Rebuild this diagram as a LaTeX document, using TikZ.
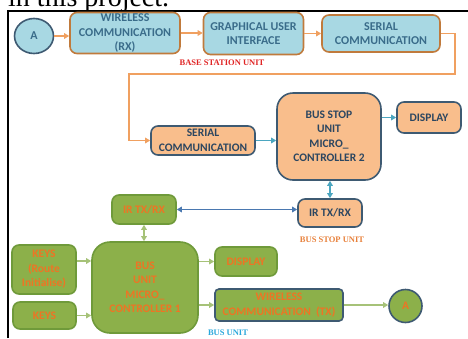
\documentclass[tikz,border=0pt]{standalone}
\usepackage{fontspec}
\setmainfont{Liberation Serif}
\newfontfamily\boxfont{Carlito}
\usetikzlibrary{arrows.meta,shapes.geometric}
\definecolor{lbfill}{HTML}{A8D8E3}
\definecolor{lbbord}{HTML}{C07A3C}
\definecolor{lbtext}{HTML}{3A6C8A}
\definecolor{ofill}{HTML}{F9BE8C}
\definecolor{dbord}{HTML}{3E5A72}
\definecolor{otext}{HTML}{2C4660}
\definecolor{gfill}{HTML}{8CB04A}
\definecolor{gbord}{HTML}{6F9A3A}
\definecolor{gtext}{HTML}{EE7424}
\definecolor{arrorange}{HTML}{F0A060}
\definecolor{arrteal}{HTML}{4BA6C0}
\definecolor{arrblue}{HTML}{4A78B0}
\definecolor{arrgreen}{HTML}{A6C278}
\definecolor{labred}{HTML}{E02424}
\definecolor{laborange}{HTML}{E8803A}
\definecolor{labblue}{HTML}{2AA8DC}
\tikzset{
  box/.style={draw, rounded corners=7pt, line width=1.6pt, align=center, inner sep=0pt,
    font=\boxfont\bfseries\fontsize{11.5}{14.5}\selectfont},
  topfont/.style={font=\boxfont\bfseries\fontsize{12}{14.5}\selectfont},
  bluebox/.style={box, topfont, fill=lbfill, draw=lbbord, text=lbtext},
  orbox/.style={box, fill=ofill, draw=dbord, text=otext},
  grbox/.style={box, fill=gfill, draw=gbord, text=gtext},
  arr/.style={line width=1.5pt, -{Triangle[length=5pt,width=5.5pt]}},
  darr/.style={line width=1.5pt, {Triangle[length=5pt,width=5.5pt]}-{Triangle[length=5pt,width=5.5pt]}},
  unitlabel/.style={font=\bfseries\fontsize{8.5}{10}\selectfont, inner sep=0pt},
}
\begin{document}
\begin{tikzpicture}[x=1pt,y=-1pt]
\useasboundingbox (0,0) rectangle (468,338);
\fill[white] (0,0) rectangle (468,338);
\begin{scope}
\clip (0,0) rectangle (468,11);
\node[anchor=base west, inner sep=0pt, font=\fontsize{28}{30}\selectfont] (cap) at (8,6) {in this project.};
\end{scope}
\draw[line width=2pt] (7.5,338) -- (7.5,11) -- (468,11);

% base station row
\node[ellipse, draw=dbord, fill=lbfill, line width=1.6pt, minimum width=39pt, minimum height=35pt, inner sep=0pt,
  text=lbtext, topfont] (A1) at (34,36) {A};
\node[bluebox, minimum width=110pt, minimum height=41pt] (wrx) at (125,33) {WIRELESS\\COMMUNICATION\\(RX)};
\node[bluebox, minimum width=100pt, minimum height=42pt] (gui) at (253.5,33.5) {GRAPHICAL USER\\INTERFACE};
\node[bluebox, minimum width=118pt, minimum height=37pt] (ser1) at (381,33.5) {SERIAL\\COMMUNICATION};
\node[unitlabel, text=labred] (bsu) at (222,63) {BASE STATION UNIT};

% bus stop unit
\node[orbox, minimum width=104pt, minimum height=29pt] (ser2) at (203,140.5) {SERIAL\\COMMUNICATION};
\node[orbox, rounded corners=16pt, minimum width=104pt, minimum height=87pt] (mcu2) at (329,136.5) {BUS STOP\\UNIT\\MICRO\_\\CONTROLLER 2};
\node[orbox, minimum width=64pt, minimum height=31pt] (disp2) at (429,117.5) {DISPLAY};
\node[orbox, minimum width=64pt, minimum height=28pt] (ir2) at (330,213) {IR TX/RX};
\node[unitlabel, text=laborange] (bstu) at (332,240) {BUS STOP UNIT};

% bus unit
\node[grbox, minimum width=64pt, minimum height=29pt] (ir1) at (144,209.5) {IR TX/RX};
\node[grbox, rounded corners=18pt, minimum width=106pt, minimum height=91pt] (mcu1) at (145,287.5) {BUS\\UNIT\\MICRO\_\\CONTROLLER 1};
\node[grbox, minimum width=64pt, minimum height=49pt] (keysr) at (44,269.5) {KEYS\\(Route\\Initialise)};
\node[grbox, minimum width=63pt, minimum height=27pt] (keys) at (44.5,315.5) {KEYS};
\node[grbox, minimum width=62pt, minimum height=29pt] (disp1) at (246,261.5) {DISPLAY};
\node[grbox, draw=dbord, rounded corners=4pt, minimum width=128pt, minimum height=32pt] (wtx) at (279,305) {WIRELESS\\COMMUNICATION\ \ (TX)};
\node[circle, draw=dbord, fill=gfill, line width=1.6pt, minimum size=33pt, inner sep=0pt,
  text=gtext, font=\boxfont\bfseries\fontsize{11.5}{14}\selectfont] (A2) at (405.5,306) {A};
\node[unitlabel, text=labblue] (bu) at (228,333) {BUS UNIT};

% connectors
\coordinate (r1) at (455,74);
\coordinate (l1) at (129,74);
\draw[arr, arrorange] (A1.east) -- (A1.east -| wrx.west);
\draw[arr, arrorange] (wrx.east) -- (wrx.east -| gui.west);
\draw[arr, arrorange] (gui.east) -- (gui.east -| ser1.west);
\draw[arr, arrorange] (ser1.east) -- (ser1.east -| r1) -- (r1) -- (l1) -- (l1 |- ser2.west) -- (ser2.west);
\draw[arr, arrteal] (ser2.east) -- (ser2.east -| mcu2.west);
\draw[arr, arrteal] (disp2.west -| mcu2.east) -- (disp2.west);
\draw[darr, arrteal] (ir2.north) -- (ir2.north |- mcu2.south);
\draw[darr, arrblue] (ir1.east) -- (ir1.east -| ir2.west);
\draw[darr, arrgreen] (ir1.south) -- (ir1.south |- mcu1.north);
\draw[arr, arrgreen] ([yshift=8.5pt]keysr.east) -- ([yshift=8.5pt]keysr.east -| mcu1.west);
\draw[arr, arrgreen] (keys.east) -- (keys.east -| mcu1.west);
\draw[arr, arrgreen] (disp1.west -| mcu1.east) -- (disp1.west);
\draw[arr, arrgreen] (wtx.west -| mcu1.east) -- (wtx.west);
\draw[arr, arrgreen] (wtx.east) -- (wtx.east -| A2.west);
\end{tikzpicture}
\end{document}
